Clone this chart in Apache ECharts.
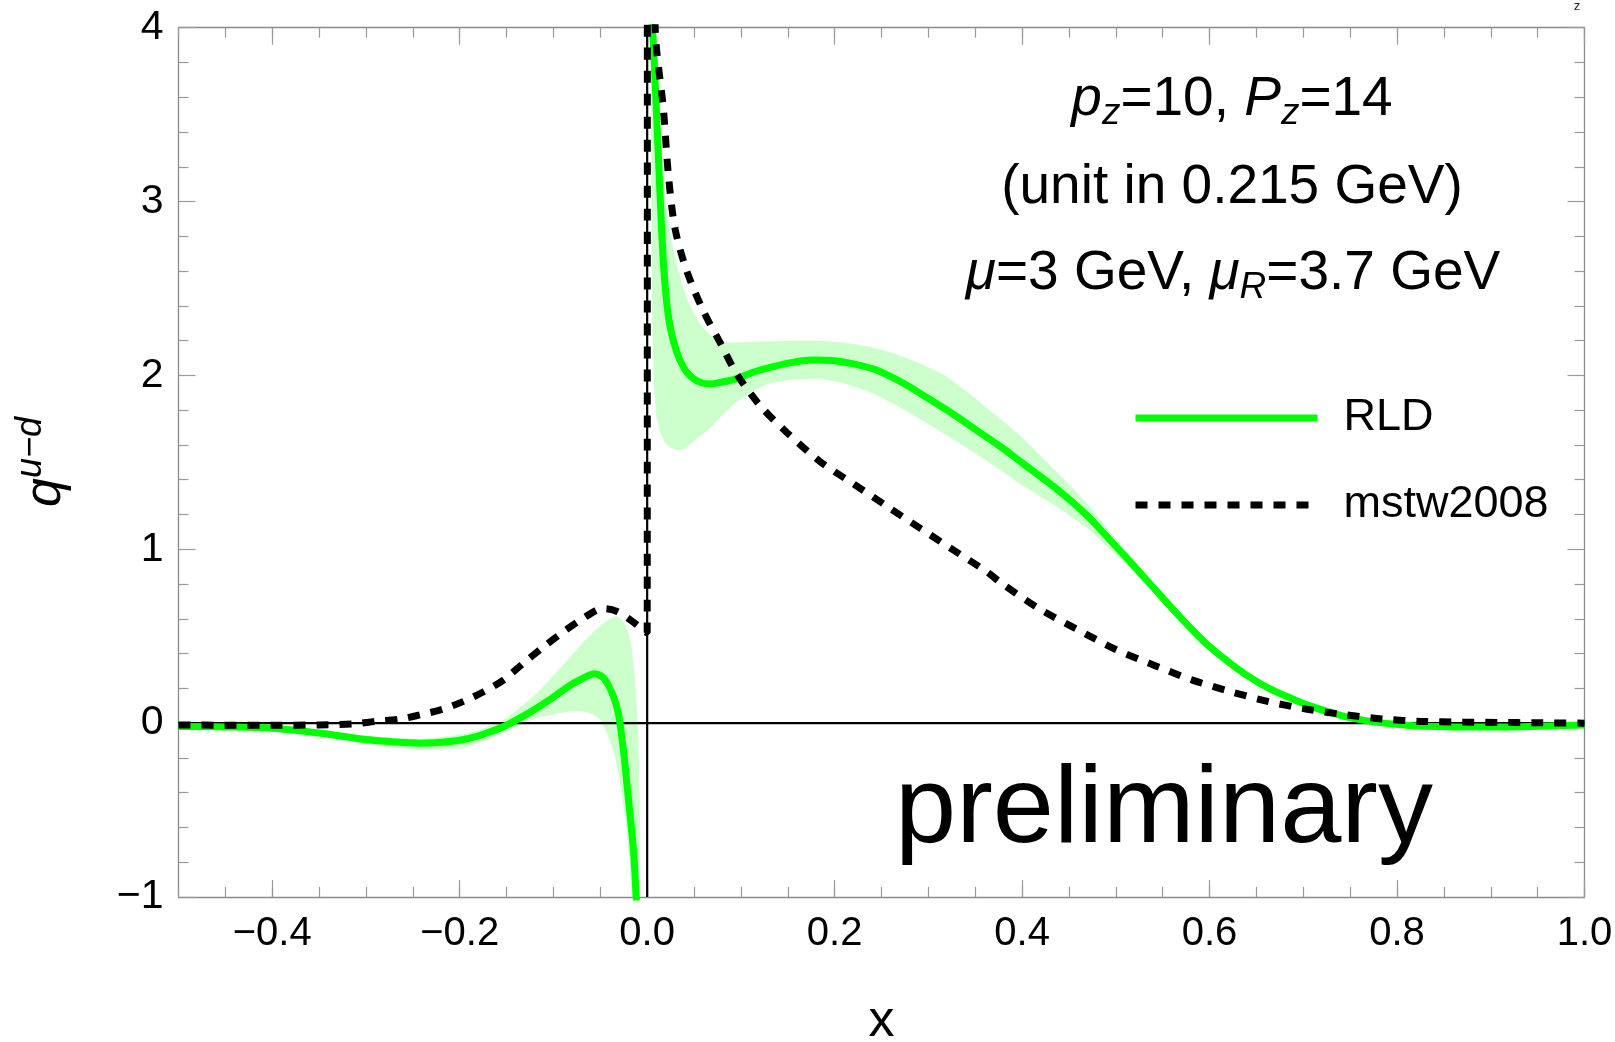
<!DOCTYPE html>
<html>
<head>
<meta charset="utf-8">
<script src="https://cdn.jsdelivr.net/npm/echarts@6/dist/echarts.min.js"></script>
<style>
  html, body { margin: 0; padding: 0; background: #ffffff; }
  #chart { width: 1615px; height: 1042px; }
</style>
</head>
<body>
<div id="chart"></div>
<script>
// ---- RLD central curve (x < 0 branch and x > 0 branch) ----
const rldNegX = [-0.5, -0.45, -0.4, -0.35, -0.3, -0.27, -0.242, -0.21, -0.19, -0.171, -0.153, -0.136, -0.118, -0.1, -0.082, -0.07, -0.062, -0.056, -0.05, -0.046, -0.041, -0.036, -0.032, -0.029, -0.025, -0.0217, -0.019, -0.0163, -0.014, -0.0117, -0.0095];
const rldNegY = [-0.02, -0.022, -0.03, -0.057, -0.094, -0.108, -0.115, -0.106, -0.088, -0.057, -0.019, 0.029, 0.086, 0.15, 0.218, 0.255, 0.276, 0.284, 0.274, 0.257, 0.215, 0.153, 0.085, 0.0, -0.17, -0.345, -0.49, -0.633, -0.78, -1.0, -1.2];
const rldPosX = [0.0045, 0.0075, 0.0103, 0.0139, 0.0174, 0.021, 0.0245, 0.03, 0.0352, 0.042, 0.0494, 0.058, 0.0672, 0.08, 0.0957, 0.113, 0.131, 0.155, 0.1775, 0.2, 0.22, 0.245, 0.2735, 0.3, 0.327, 0.35, 0.377, 0.4, 0.438, 0.47, 0.4995, 0.52, 0.54, 0.56, 0.581, 0.6, 0.622, 0.64, 0.663, 0.684, 0.704, 0.725, 0.745, 0.765, 0.786, 0.81, 0.83, 0.87, 0.91, 0.95, 1.0];
const rldPosY = [4.12, 3.8, 3.47, 3.02, 2.64, 2.41, 2.28, 2.16, 2.085, 2.02, 1.982, 1.958, 1.951, 1.962, 1.982, 2.018, 2.046, 2.075, 2.088, 2.084, 2.066, 2.03, 1.955, 1.867, 1.775, 1.69, 1.59, 1.497, 1.342, 1.19, 1.02, 0.9, 0.78, 0.66, 0.54, 0.44, 0.345, 0.275, 0.201, 0.15, 0.105, 0.068, 0.038, 0.016, 0.0, -0.012, -0.018, -0.022, -0.022, -0.018, -0.01];

// ---- RLD uncertainty band ----
const bandNegX  = [-0.5, -0.45, -0.4, -0.35, -0.3, -0.242, -0.19, -0.153, -0.118, -0.1, -0.082, -0.064, -0.05, -0.04, -0.034, -0.028, -0.023, -0.019, -0.0163, -0.013, -0.0104, -0.0082, -0.0072];
const bandNegHi = [-0.012, -0.014, -0.018, -0.042, -0.072, -0.09, -0.057, 0.019, 0.172, 0.275, 0.383, 0.489, 0.56, 0.6, 0.613, 0.6, 0.556, 0.5, 0.42, 0.25, 0.04, -0.34, -1.3];
const bandNegLo = [-0.028, -0.03, -0.042, -0.075, -0.12, -0.155, -0.134, -0.057, 0.029, 0.05, 0.067, 0.062, 0.019, -0.1, -0.2, -0.37, -0.57, -0.78, -1.0, -1.3, -1.3, -1.3, -1.3];
const bandPosX  = [0.0035, 0.0045, 0.0055, 0.007, 0.01, 0.014, 0.0192, 0.025, 0.032, 0.0388, 0.045, 0.0566, 0.068, 0.078, 0.096, 0.113, 0.131, 0.155, 0.185, 0.21, 0.238, 0.265, 0.291, 0.318, 0.345, 0.377, 0.398, 0.438, 0.47, 0.5, 0.54, 0.58, 0.62, 0.66, 0.7, 0.75, 0.8, 0.9, 1.0];
const bandPosHi = [4.5, 4.5, 4.5, 4.4, 3.95, 3.4, 3.013, 2.8, 2.63, 2.497, 2.41, 2.291, 2.23, 2.19, 2.19, 2.193, 2.197, 2.2, 2.2, 2.19, 2.165, 2.125, 2.07, 2.0, 1.89, 1.75, 1.655, 1.44, 1.26, 1.062, 0.805, 0.561, 0.363, 0.21, 0.115, 0.04, 0.003, -0.015, -0.005];
const bandPosLo = [4.5, 3.0, 2.3, 1.95, 1.76, 1.67, 1.61, 1.585, 1.569, 1.575, 1.6, 1.65, 1.7, 1.76, 1.852, 1.91, 1.956, 1.975, 1.982, 1.955, 1.904, 1.83, 1.749, 1.66, 1.569, 1.455, 1.375, 1.242, 1.12, 0.972, 0.755, 0.531, 0.343, 0.19, 0.095, 0.03, -0.02, -0.03, -0.015];

// ---- mstw2008 reference curve ----
const mstwX = [-0.5, -0.45, -0.4, -0.35, -0.314, -0.29, -0.264, -0.242, -0.218, -0.196, -0.174, -0.153, -0.132, -0.111, -0.089, -0.071, -0.053, -0.045, -0.032, -0.018, -0.0075, -0.002, 0, 0.0004, 0.0085, 0.0174, 0.0227, 0.0299, 0.0423, 0.06, 0.0779, 0.0957, 0.1206, 0.149, 0.1846, 0.2202, 0.2558, 0.2914, 0.3269, 0.3625, 0.3767, 0.4177, 0.4585, 0.4995, 0.54, 0.581, 0.622, 0.663, 0.704, 0.745, 0.786, 0.8266, 0.87, 0.908, 0.95, 1.0];
const mstwY = [-0.01, -0.012, -0.012, -0.01, -0.005, 0.01, 0.023, 0.048, 0.08, 0.125, 0.182, 0.249, 0.345, 0.437, 0.527, 0.594, 0.652, 0.658, 0.642, 0.594, 0.55, 0.525, 0.52, 20, 4.02, 3.528, 3.15, 2.84, 2.6, 2.37, 2.188, 2.007, 1.826, 1.672, 1.504, 1.376, 1.247, 1.12, 0.995, 0.87, 0.81, 0.66, 0.54, 0.425, 0.335, 0.249, 0.182, 0.124, 0.08, 0.048, 0.023, 0.01, 0.006, 0.004, 0.002, 0.0];

// ---- axes through the origin ----
const zeroH = [[-0.5, 0], [1.0, 0]];
const zeroV = [[0, -1], [0, 4]];

// ---- ticks ----
const xMajorTicks = [-0.4, -0.2, 0, 0.2, 0.4, 0.6, 0.8, 1.0];
const xRange = [-0.5, 1.0];
const yRange = [-1, 4];

const FONT = "'Liberation Sans', Arial, Helvetica, sans-serif";
const frameColor = '#8a8a8a';
const tickColor = '#9a9a9a';

const zip = (xs, ys) => xs.map((x, i) => [x, ys[i]]);
const rldData = zip(rldNegX, rldNegY).concat([[0, null]], zip(rldPosX, rldPosY));
const mstwData = zip(mstwX, mstwY);

const minus = s => s.replace('-', '\u2212');

const chart = echarts.init(document.getElementById('chart'), null, { renderer: 'canvas' });

function bandPolygon(api, xs, lo, hi) {
  const pts = [];
  for (let i = 0; i < xs.length; i++) pts.push(api.coord([xs[i], hi[i]]));
  for (let i = xs.length - 1; i >= 0; i--) pts.push(api.coord([xs[i], lo[i]]));
  return pts;
}

const xCommon = { type: 'value', min: xRange[0], max: xRange[1], splitLine: { show: false }, gridIndex: 0 };
const yCommon = { type: 'value', min: yRange[0], max: yRange[1], interval: 1, splitLine: { show: false }, minorSplitLine: { show: false } };

const option = {
  backgroundColor: '#ffffff',
  animation: false,
  grid: { left: 178.5, right: 30.5, top: 27.7, bottom: 145, containLabel: false, outerBoundsMode: 'none' },
  xAxis: [
    Object.assign({}, xCommon, {
      position: 'bottom',
      axisLine: { show: true, onZero: false, lineStyle: { color: frameColor, width: 1.3 } },
      axisTick: { show: true, inside: true, length: 17, customValues: xMajorTicks, lineStyle: { color: tickColor, width: 1.2 } },
      axisLabel: {
        show: true, customValues: xMajorTicks, margin: 17,
        fontSize: 40, fontFamily: FONT, color: '#000',
        formatter: v => minus(Number(v).toFixed(1))
      },
      name: 'x', nameLocation: 'middle', nameGap: 99,
      nameTextStyle: { fontSize: 52, fontFamily: FONT, color: '#000' }
    }),
    Object.assign({}, xCommon, {
      position: 'bottom', interval: 0.05,
      axisLine: { show: false, onZero: false },
      axisTick: { show: true, inside: true, length: 10, lineStyle: { color: tickColor, width: 1.2 } },
      axisLabel: { show: false }
    }),
    Object.assign({}, xCommon, {
      position: 'top',
      axisLine: { show: true, onZero: false, lineStyle: { color: frameColor, width: 1.3 } },
      axisTick: { show: true, inside: true, length: 17, customValues: xMajorTicks, lineStyle: { color: tickColor, width: 1.2 } },
      axisLabel: { show: false }
    }),
    Object.assign({}, xCommon, {
      position: 'top', interval: 0.05,
      axisLine: { show: false, onZero: false },
      axisTick: { show: true, inside: true, length: 10, lineStyle: { color: tickColor, width: 1.2 } },
      axisLabel: { show: false }
    })
  ],
  yAxis: [
    Object.assign({}, yCommon, {
      position: 'left',
      axisLine: { show: true, onZero: false, lineStyle: { color: frameColor, width: 1.3 } },
      axisTick: { show: true, inside: true, length: 17, lineStyle: { color: tickColor, width: 1.2 } },
      minorTick: { show: true, splitNumber: 5, length: 10, lineStyle: { color: tickColor, width: 1.2 } },
      axisLabel: {
        show: true, margin: 15, fontSize: 41, fontFamily: FONT, color: '#000',
        formatter: v => minus(String(v))
      }
    }),
    Object.assign({}, yCommon, {
      position: 'right',
      axisLine: { show: true, onZero: false, lineStyle: { color: frameColor, width: 1.3 } },
      axisTick: { show: true, inside: true, length: 17, lineStyle: { color: tickColor, width: 1.2 } },
      minorTick: { show: true, splitNumber: 5, length: 10, lineStyle: { color: tickColor, width: 1.2 } },
      axisLabel: { show: false }
    })
  ],
  legend: {
    data: ['RLD', 'mstw2008'],
    orient: 'vertical',
    left: 1132, top: 393, padding: 0,
    itemWidth: 182, itemHeight: 14, itemGap: 37,
    selectedMode: false,
    lineStyle: { width: 7 },
    itemStyle: { opacity: 0, borderWidth: 0 },
    textStyle: { fontSize: 45, fontFamily: FONT, color: '#000', lineHeight: 50, padding: [0, 0, 0, 21] }
  },
  series: [
    {
      name: 'band', type: 'custom', coordinateSystem: 'cartesian2d',
      xAxisIndex: 0, yAxisIndex: 0, clip: true, silent: true, z: 1,
      data: [[0, 0]],
      renderItem: (params, api) => {
        const cs = params.coordSys;
        const fill = 'rgba(0, 255, 0, 0.2)';
        return {
          type: 'group',
          clipPath: { type: 'rect', shape: { x: cs.x, y: cs.y, width: cs.width, height: cs.height } },
          children: [
            { type: 'polygon', shape: { points: bandPolygon(api, bandNegX, bandNegLo, bandNegHi), smooth: 0.2 }, style: { fill: fill } },
            { type: 'polygon', shape: { points: bandPolygon(api, bandPosX, bandPosLo, bandPosHi) }, style: { fill: fill } }
          ]
        };
      }
    },
    {
      name: 'zeroH', type: 'line', data: zeroH, xAxisIndex: 0, yAxisIndex: 0,
      symbol: 'none', silent: true, z: 2,
      lineStyle: { color: '#000', width: 2.2 }
    },
    {
      name: 'zeroV', type: 'line', data: zeroV, xAxisIndex: 0, yAxisIndex: 0,
      symbol: 'none', silent: true, z: 2,
      lineStyle: { color: '#000', width: 2.2 }
    },
    {
      name: 'RLD', type: 'line', data: rldData, xAxisIndex: 0, yAxisIndex: 0,
      symbol: 'none', showSymbol: false, connectNulls: false, clip: true,
      smooth: 0.35, z: 3,
      color: '#00ff00',
      lineStyle: { color: '#00ff00', width: 7, cap: 'butt', join: 'round' }
    },
    {
      name: 'mstw2008', type: 'line', data: mstwData, xAxisIndex: 0, yAxisIndex: 0,
      symbol: 'none', showSymbol: false, clip: true,
      smooth: 0.3, z: 4,
      color: '#000',
      lineStyle: { color: '#000', width: 7, type: [12, 11], cap: 'butt' }
    }
  ],
  graphic: [
    {
      type: 'text', x: 1232, y: 100, silent: true, z: 10,
      style: {
        text: '{i|p}{sub|z}=10, {i|P}{sub|z}=14',
        fontSize: 55, fontFamily: FONT, fill: '#000',
        align: 'center', verticalAlign: 'middle',
        rich: {
          i: { fontSize: 55, fontFamily: FONT, fontStyle: 'italic', fill: '#000' },
          sub: { fontSize: 37, fontFamily: FONT, fontStyle: 'italic', fill: '#000', padding: [28, 0, 0, 0] }
        }
      }
    },
    {
      type: 'text', x: 1232, y: 188, silent: true, z: 10,
      style: {
        text: '(unit in 0.215 GeV)',
        fontSize: 55, fontFamily: FONT, fill: '#000',
        align: 'center', verticalAlign: 'middle'
      }
    },
    {
      type: 'text', x: 1233, y: 274, silent: true, z: 10,
      style: {
        text: '{i|\u03bc}=3 GeV, {i|\u03bc}{sub|R}=3.7 GeV',
        fontSize: 55, fontFamily: FONT, fill: '#000',
        align: 'center', verticalAlign: 'middle',
        rich: {
          i: { fontSize: 55, fontFamily: FONT, fontStyle: 'italic', fill: '#000' },
          sub: { fontSize: 37, fontFamily: FONT, fontStyle: 'italic', fill: '#000', padding: [28, 0, 0, 0] }
        }
      }
    },
    {
      type: 'text', x: 1164, y: 812, silent: true, z: 10,
      style: {
        text: 'preliminary',
        fontSize: 110, fontFamily: FONT, fill: '#000',
        align: 'center', verticalAlign: 'middle'
      }
    },
    {
      type: 'text', x: 46, y: 462, rotation: Math.PI / 2, silent: true, z: 10,
      style: {
        text: '{q|q}{sup|u\u2212d}',
        fontSize: 50, fontFamily: FONT, fill: '#000',
        align: 'center', verticalAlign: 'middle',
        rich: {
          q: { fontSize: 52, fontFamily: FONT, fontStyle: 'italic', fill: '#000' },
          sup: { fontSize: 36, fontFamily: FONT, fontStyle: 'italic', fill: '#000', padding: [0, 0, 30, 0] }
        }
      }
    },
    {
      type: 'text', x: 1577, y: 6, silent: true, z: 10,
      style: {
        text: 'z', fontSize: 13, fontFamily: FONT, fill: '#222',
        align: 'center', verticalAlign: 'middle'
      }
    }
  ]
};

chart.setOption(option);
</script>
</body>
</html>
